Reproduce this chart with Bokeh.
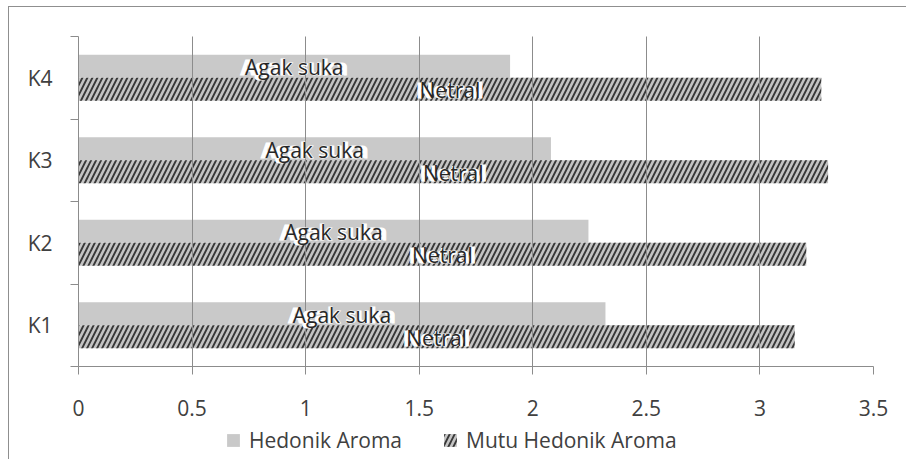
from bokeh.plotting import figure
from bokeh.layouts import column
from bokeh.models import (ColumnDataSource, Range1d, FixedTicker, LabelSet,
                          Legend, LegendItem)
from bokeh.core.properties import value
from bokeh.embed import file_html
from bokeh.resources import INLINE

categories = ["K1", "K2", "K3", "K4"]
hedonik = [2.32, 2.245, 2.08, 1.90]
mutu = [3.153, 3.204, 3.30, 3.27]
hedonik_labels = ["Agak suka", "Agak suka", "Agak suka", "Agak suka"]
mutu_labels = ["Netral", "Netral", "Netral", "Netral"]
x_ticks = [0, 0.5, 1, 1.5, 2, 2.5, 3, 3.5]
series_names = ["Hedonik Aroma", "Mutu Hedonik Aroma"]

FONT = "Open Sans"
FS = "21px"
TXT = "#404040"
GRAY = "#8c8c8c"
BAR_H = 0.28
H_STYLE = dict(fill_color="#c9c9c9", line_color=None)
M_STYLE = dict(fill_color="#c4c4c4", line_color=None, hatch_pattern="/",
               hatch_color="#383838", hatch_scale=10, hatch_weight=1.9)

centers = [i + 0.5 for i in range(len(categories))]
src_h = ColumnDataSource(dict(y=[c + BAR_H / 2 for c in centers], right=hedonik,
                              mid=[v / 2 for v in hedonik], lab=hedonik_labels))
src_m = ColumnDataSource(dict(y=[c - BAR_H / 2 for c in centers], right=mutu,
                              mid=[v / 2 for v in mutu], lab=mutu_labels))

p = figure(width=897, height=420, output_backend="svg", toolbar_location=None,
           x_range=Range1d(0, 3.5), y_range=Range1d(0, len(categories)),
           min_border_left=69, min_border_right=33, min_border_top=29,
           min_border_bottom=61)
p.outline_line_color = None

r_h = p.hbar(y="y", right="right", left=0, height=BAR_H, source=src_h, **H_STYLE)
r_m = p.hbar(y="y", right="right", left=0, height=BAR_H, source=src_m, **M_STYLE)

# grid
p.ygrid.grid_line_color = None
p.xgrid.grid_line_color = GRAY
p.xgrid.level = "guide"
p.xgrid.ticker = FixedTicker(ticks=x_ticks)

# x axis
xa = p.xaxis[0]
xa.ticker = FixedTicker(ticks=x_ticks)
xa.axis_line_color = GRAY
xa.major_tick_line_color = GRAY
xa.major_tick_in = 0
xa.major_tick_out = 8
xa.minor_tick_line_color = None
xa.major_label_text_font = FONT
xa.major_label_text_font_size = FS
xa.major_label_text_color = TXT
xa.major_label_standoff = 25

# y axis
ya = p.yaxis[0]
ya.ticker = FixedTicker(ticks=centers, minor_ticks=list(range(len(categories) + 1)))
ya.major_label_overrides = {c: k for c, k in zip(centers, categories)}
ya.axis_line_color = GRAY
ya.major_tick_line_color = None
ya.minor_tick_line_color = GRAY
ya.minor_tick_in = 0
ya.minor_tick_out = 8
ya.major_label_text_font = FONT
ya.major_label_text_font_size = FS
ya.major_label_text_color = TXT
ya.major_label_standoff = 18

# bar labels: white halo underneath, dark text on top
for src in (src_h, src_m):
    halo = LabelSet(x="mid", y="y", text="lab", source=src, text_align="center",
                    text_baseline="middle", text_font=value(FONT),
                    text_font_size=value(FS), text_font_style="bold",
                    text_color="white", text_outline_color="white", y_offset=-1)
    p.add_layout(halo)
    ls = LabelSet(x="mid", y="y", text="lab", source=src, text_align="center",
                  text_baseline="middle", text_font=value(FONT),
                  text_font_size=value(FS), text_color="#262626", y_offset=-1)
    p.add_layout(ls)

# legend strip (its frame is aligned with the chart's frame by the column)
lf = figure(width=897, height=32, output_backend="svg", toolbar_location=None,
            x_range=Range1d(0, 1), y_range=Range1d(100, 101),
            x_axis_location=None, y_axis_location=None,
            min_border=0, min_border_left=0, min_border_right=0,
            min_border_top=0, min_border_bottom=0)
lf.grid.visible = False
lf.outline_line_color = None
lh = lf.hbar(y="y", right="right", left=0, height=BAR_H, source=src_h, **H_STYLE)
lm = lf.hbar(y="y", right="right", left=0, height=BAR_H, source=src_m, **M_STYLE)
legend = Legend(items=[LegendItem(label=series_names[0], renderers=[lh]),
                       LegendItem(label=series_names[1], renderers=[lm])],
                orientation="horizontal", location=(147, 5),
                label_text_font=FONT, label_text_font_size=FS,
                label_text_color=TXT, glyph_width=16, glyph_height=16,
                spacing=40, label_standoff=8, padding=0, margin=0,
                border_line_color=None, background_fill_alpha=0)
lf.add_layout(legend, "center")

layout = column(p, lf, spacing=0, margin=(6, 0, 0, 8),
                styles={"border-left": "1px solid #8f8f8f",
                        "border-top": "1px solid #8f8f8f"})

open("out.html", "w").write(file_html(layout, INLINE))
